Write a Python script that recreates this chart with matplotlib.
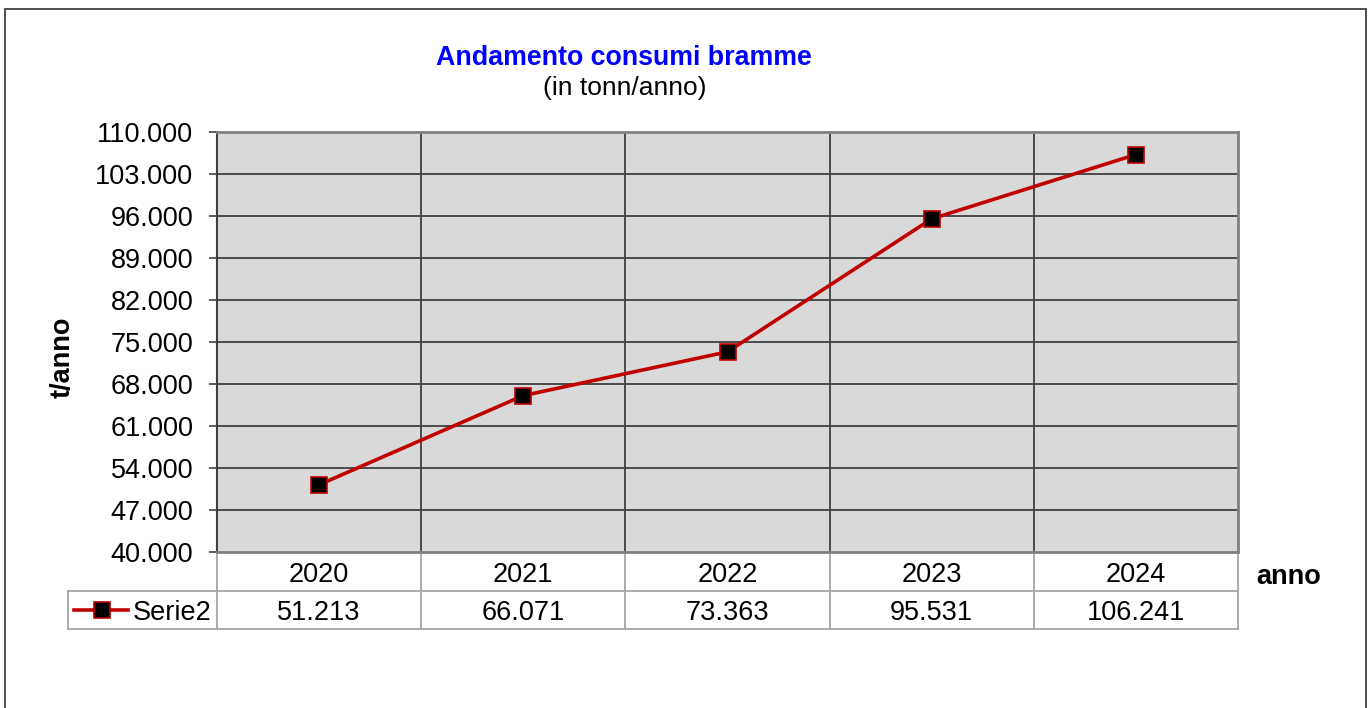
import matplotlib
matplotlib.use("Agg")
import matplotlib.pyplot as plt
from matplotlib.lines import Line2D
from matplotlib.patches import Rectangle

years = ["2020", "2021", "2022", "2023", "2024"]
values = [51213, 66071, 73363, 95531, 106241]
value_labels = ["51.213", "66.071", "73.363", "95.531", "106.241"]
yticks = [40000, 47000, 54000, 61000, 68000, 75000, 82000, 89000, 96000, 103000, 110000]
series_name = "Serie2"

plt.rcParams['font.family'] = ['Liberation Sans', 'DejaVu Sans']

W, H = 1368, 708
FS = 19.5
fig = plt.figure(figsize=(W / 100, H / 100), dpi=100)
fig.patch.set_facecolor("white")

# outer chart border
fig.add_artist(Rectangle((5 / W, -0.05), (1366 - 5) / W, 1 - 9 / H + 0.05,
                         transform=fig.transFigure, fill=False,
                         edgecolor="#404040", linewidth=1.3))

L, R, T, B = 217, 1238, 132, 552
ax = fig.add_axes([L / W, 1 - B / H, (R - L) / W, (B - T) / H])
ax.set_facecolor("#d9d9d9")

n = len(years)
x = [i + 0.5 for i in range(n)]
ax.set_xlim(0, n)
ax.set_ylim(40000, 110000)
ax.set_yticks(yticks)
ax.set_yticklabels([f"{v:,}".replace(",", ".") for v in yticks], fontsize=FS)
ax.set_xticks([])
ax.tick_params(axis='y', length=6, width=1.2, color="#404040", pad=11)

for v in yticks[1:-1]:
    ax.axhline(v, color="#404040", linewidth=1.3, zorder=1)
for i in range(1, n):
    ax.axvline(i, color="#404040", linewidth=1.3, zorder=1)

for s in ["top", "right"]:
    ax.spines[s].set_color("#808080")
    ax.spines[s].set_linewidth(2)
ax.spines["left"].set_color("#404040")
ax.spines["left"].set_linewidth(1.5)
ax.spines["bottom"].set_color("#808080")
ax.spines["bottom"].set_linewidth(2)

ax.plot(x, values, color="#c00000", linewidth=2.6, marker="s", markersize=11.5,
        markerfacecolor="black", markeredgecolor="#c00000", markeredgewidth=1.2, zorder=3)

# data table below the plot
pw, ph = R - L, B - T
r1 = -(591 - B) / ph
r2 = -(629 - B) / ph
lx = (68 - L) / pw
tc = "#a6a6a6"
kw = dict(transform=ax.transAxes, clip_on=False, color=tc, linewidth=1.3)
for i in range(n + 1):
    xx = i / n
    ax.add_line(Line2D([xx, xx], [0, r2], **kw))
ax.add_line(Line2D([lx, 1], [r1, r1], **kw))
ax.add_line(Line2D([lx, 1], [r2, r2], **kw))
ax.add_line(Line2D([lx, lx], [r1, r2], **kw))

ym1 = (r1) / 2
ym2 = (r1 + r2) / 2
dy = -3 / ph
for i in range(n):
    ax.text((i + 0.5) / n, ym1 + dy, years[i], transform=ax.transAxes, ha="center",
            va="center", fontsize=FS)
    ax.text((i + 0.5) / n, ym2 + dy, value_labels[i], transform=ax.transAxes, ha="center",
            va="center", fontsize=FS)

# legend key in table
ax.add_line(Line2D([(74 - L) / pw, (128 - L) / pw], [ym2, ym2], transform=ax.transAxes,
                   clip_on=False, color="#c00000", linewidth=2.6))
ax.add_line(Line2D([(102 - L) / pw], [ym2], transform=ax.transAxes, clip_on=False,
                   marker="s", markersize=11.5, markerfacecolor="black",
                   markeredgecolor="#c00000", markeredgewidth=1.2, linestyle="none"))
ax.text((133 - L) / pw, ym2 + dy, series_name, transform=ax.transAxes, ha="left",
        va="center", fontsize=FS)

# titles and axis labels
fig.text(624 / W, 1 - 58 / H, "Andamento consumi bramme", color="#0000ff",
         fontsize=19.3, fontweight="bold", ha="center", va="center")
fig.text(625 / W, 1 - 88 / H, "(in tonn/anno)", color="black",
         fontsize=19, ha="center", va="center")
fig.text(63 / W, 1 - 357 / H, "t/anno", rotation=90, fontsize=FS,
         fontweight="bold", ha="center", va="center")
fig.text(1289 / W, 1 - 577 / H, "anno", fontsize=FS, fontweight="bold",
         ha="center", va="center")

fig.savefig("out.png", dpi=100)
